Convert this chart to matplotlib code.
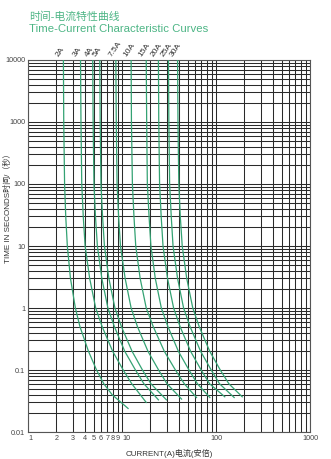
import matplotlib
matplotlib.use("Agg")
import matplotlib.pyplot as plt
from matplotlib.ticker import LogLocator, NullFormatter, FixedLocator

plt.rcParams['font.family'] = ['Liberation Sans', 'Noto Sans CJK SC', 'DejaVu Sans']

# fuse ratings and their time-current curves (current in A, time in s)
ratings = ['2A', '3A', '4A', '5A', '7.5A', '10A', '15A', '20A', '25A', '30A']

t_2a = [10000, 1000, 100, 30, 10, 3, 1, 0.5, 0.2, 0.1, 0.06, 0.04, 0.024]
i_2a = [2.38, 2.40, 2.45, 2.52, 2.62, 2.83, 3.19, 3.57, 4.40, 5.36, 6.40, 7.85, 11.6]

t_3a = [10000, 1000, 100, 30, 10, 3, 1, 0.5, 0.2, 0.1, 0.06, 0.030]
i_3a = [3.62, 3.66, 3.73, 3.87, 4.05, 4.53, 5.25, 6.15, 7.96, 10.3, 12.7, 18.1]

t_4a = [10000, 1000, 100, 30, 10, 3, 1, 0.5, 0.2, 0.1, 0.06, 0.033]
i_4a = [4.88, 4.93, 5.03, 5.22, 5.47, 6.10, 7.08, 8.30, 10.7, 13.9, 17.1, 24.4]

t_5a = [10000, 1000, 100, 30, 10, 3, 1, 0.5, 0.2, 0.1, 0.06, 0.033]
i_5a = [5.80, 5.86, 5.97, 6.21, 6.50, 7.25, 8.41, 9.86, 12.8, 16.5, 20.3, 29.7]

t_7a = [10000, 1000, 100, 30, 10, 3, 1, 0.5, 0.2, 0.1, 0.06, 0.034]
i_7a = [8.60, 8.69, 8.86, 9.20, 9.63, 10.8, 12.5, 14.6, 18.9, 24.5, 30.1, 43.0]

t_10a = [10000, 1000, 100, 30, 10, 3, 1, 0.5, 0.2, 0.1, 0.06, 0.036]
i_10a = [12.5, 12.6, 12.9, 13.4, 14.0, 15.6, 18.1, 21.5, 28.2, 37.0, 46.0, 62.0]

t_15a = [10000, 1000, 100, 30, 10, 3, 1, 0.5, 0.2, 0.1, 0.06, 0.036]
i_15a = [18.1, 18.3, 18.6, 19.4, 20.3, 22.6, 26.2, 30.8, 39.8, 51.6, 63.4, 86.0]

t_20a = [10000, 1000, 100, 30, 10, 3, 1, 0.5, 0.2, 0.1, 0.06, 0.037]
i_20a = [24.4, 24.6, 25.1, 26.1, 27.3, 30.5, 35.4, 41.5, 53.7, 69.5, 85.4, 124]

t_25a = [10000, 1000, 100, 30, 10, 3, 1, 0.5, 0.2, 0.1, 0.06, 0.036]
i_25a = [31.2, 31.5, 32.1, 33.4, 34.9, 39.0, 45.2, 53.0, 68.6, 88.9, 109, 156]

t_30a = [10000, 1000, 100, 30, 10, 3, 1, 0.5, 0.2, 0.1, 0.06, 0.037]
i_30a = [39.0, 39.4, 40.2, 41.7, 43.7, 48.8, 56.6, 66.3, 85.8, 111, 137, 190]

curves = [(i_2a, t_2a), (i_3a, t_3a), (i_4a, t_4a), (i_5a, t_5a), (i_7a, t_7a),
          (i_10a, t_10a), (i_15a, t_15a), (i_20a, t_20a), (i_25a, t_25a), (i_30a, t_30a)]

x_ticks = [1, 2, 3, 4, 5, 6, 7, 8, 9, 10, 100, 1000]
x_ticklabels = ['1', '2', '3', '4', '5', '6', '7', '8', '9', '10', '100', '1000']
y_ticks = [0.01, 0.1, 1, 10, 100, 1000, 10000]
y_ticklabels = ['0.01', '0.1', '1', '10', '100', '1000', '10000']

green = '#34a273'
grid_c = '#2a2a2a'

fig = plt.figure(figsize=(3.31, 4.59), dpi=100)
ax = fig.add_axes([0.0846, 0.0588, 0.852, 0.8105])
ax.set_xscale('log')
ax.set_yscale('log')
ax.set_xlim(1, 1000)
ax.set_ylim(0.01, 10000)
ax.set_axisbelow(True)
for s in ax.spines.values():
    s.set_color('#555555')
    s.set_linewidth(0.8)

for (cur, tim), lab in zip(curves, ratings):
    ax.plot(cur, tim, color=green, lw=0.9, zorder=3)
    ax.annotate(lab, (cur[0], tim[0]), xytext=(-2, 1.5), textcoords='offset points',
                rotation=55, rotation_mode='anchor', ha='left', va='bottom',
                fontsize=6, color='#333333')

ax.set_xticks(x_ticks)
ax.set_xticklabels(x_ticklabels)
ax.set_yticks(y_ticks)
ax.set_yticklabels(y_ticklabels)
ax.tick_params(axis='both', which='both', length=0, labelsize=5.2, colors='#444444')
ax.tick_params(axis='x', pad=2)
ax.tick_params(axis='y', pad=2)
# "1" and "10" sit to the right of their lines so the crowded labels don't collide
xl = ax.get_xticklabels()
xl[0].set_ha('left')
xl[9].set_ha('left')

# grid lines at every 1..9 step of each decade
ax.yaxis.set_minor_locator(LogLocator(base=10, subs=range(2, 10), numticks=20))
ax.yaxis.set_minor_formatter(NullFormatter())
minor_x = [v * d for d in (10, 100) for v in range(2, 10)]
ax.xaxis.set_minor_locator(FixedLocator(minor_x))
ax.xaxis.set_minor_formatter(NullFormatter())
ax.grid(True, which='both', color=grid_c, lw=0.75)

ax.text(0.5, -0.047, 'CURRENT(A)电流(安倍)', transform=ax.transAxes,
        ha='center', va='top', fontsize=5.8, color='#333333')
fig.text(0.025, 0.55, 'TIME IN SECONDS时间/（秒）', rotation=90,
         ha='center', va='center', fontsize=5.8, color='#333333')

fig.text(0.088, 0.965, '时间-电流特性曲线', fontsize=7.8, color='#4db585',
         ha='left', va='center')
fig.text(0.088, 0.937, 'Time-Current Characteristic Curves', fontsize=8.2,
         color='#4db585', ha='left', va='center')

fig.savefig('out.png', dpi=100)
